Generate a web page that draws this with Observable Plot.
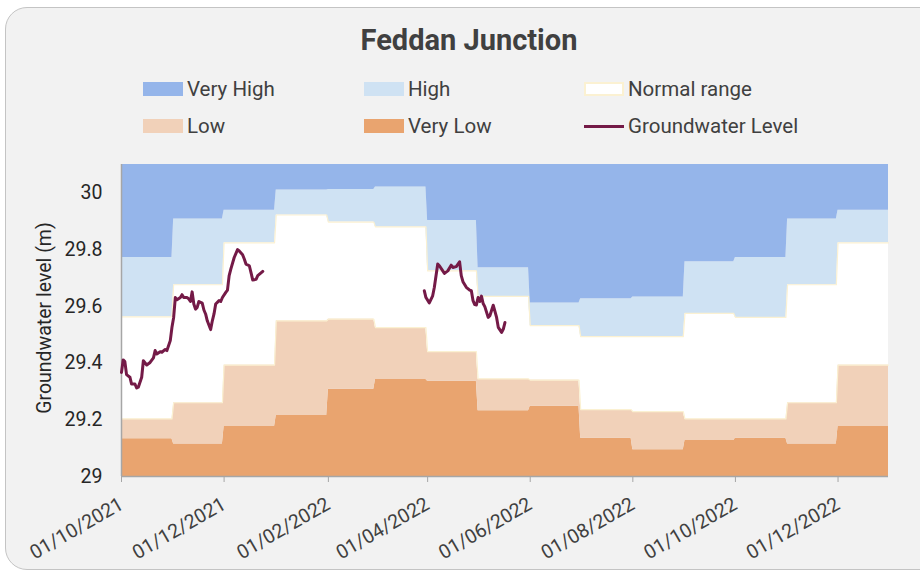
<!DOCTYPE html>
<html><head><meta charset="utf-8">
<script src="https://cdn.jsdelivr.net/npm/d3@7"></script>
<script src="https://cdn.jsdelivr.net/npm/@observablehq/plot@0.6"></script>
<style>
body{margin:0;width:920px;height:576px;overflow:hidden;background:#fff;font-family:Roboto,"Noto Sans",sans-serif;position:relative;}
#card{position:absolute;left:5px;top:7px;width:945px;height:563px;background:#f2f2f2;border:1px solid #c4c4c4;border-radius:22px;box-sizing:border-box;}
#title{position:absolute;left:0;width:938px;top:25px;text-align:center;font-size:29px;font-weight:bold;color:#404040;line-height:30px;}
.li{position:absolute;height:22px;display:flex;align-items:center;font-size:20.5px;color:#404040;white-space:nowrap;}
.sw{display:inline-block;width:40px;height:14px;margin-right:4px;box-sizing:border-box;}
#ylab{position:absolute;left:44px;top:318px;transform:translate(-50%,-50%) rotate(-90deg);font-size:19.5px;color:#262626;white-space:nowrap;}
#chart{position:absolute;left:0;top:150px;}
</style></head>
<body>
<div id="card"></div>
<div id="title">Feddan Junction</div>
<div id="legend"></div>
<div id="ylab">Groundwater level (m)</div>
<div id="chart"></div>
<script>
// Monthly threshold bands (top of each band), Oct 2021 – Dec 2022
const months = ["2021-10","2021-11","2021-12","2022-01","2022-02","2022-03","2022-04","2022-05","2022-06","2022-07","2022-08","2022-09","2022-10","2022-11","2022-12"];
const veryLowTop = [29.133,29.115,29.176,29.215,29.308,29.342,29.336,29.232,29.248,29.135,29.094,29.127,29.135,29.115,29.176];
const lowTop     = [29.203,29.260,29.393,29.549,29.555,29.525,29.440,29.344,29.340,29.236,29.229,29.203,29.203,29.260,29.393];
const normalTop  = [29.563,29.676,29.824,29.922,29.897,29.880,29.725,29.635,29.532,29.493,29.493,29.575,29.561,29.676,29.824];
const highTop    = [29.772,29.908,29.939,30.010,30.012,30.021,29.903,29.736,29.612,29.627,29.633,29.757,29.772,29.908,29.939];

// Groundwater level readings (two recorded periods)
const gwSeg1 = [
["2021-10-01",29.367],["2021-10-02",29.411],["2021-10-03",29.405],["2021-10-04",29.359],["2021-10-06",29.350],
["2021-10-07",29.326],["2021-10-09",29.326],["2021-10-10",29.312],["2021-10-11",29.315],["2021-10-13",29.350],
["2021-10-14",29.408],["2021-10-16",29.393],["2021-10-18",29.402],["2021-10-20",29.418],["2021-10-21",29.444],
["2021-10-22",29.432],["2021-10-24",29.440],["2021-10-25",29.438],["2021-10-27",29.448],["2021-10-28",29.444],
["2021-10-30",29.479],["2021-10-31",29.526],["2021-11-01",29.561],["2021-11-02",29.631],["2021-11-03",29.623],
["2021-11-05",29.631],["2021-11-06",29.641],["2021-11-07",29.631],["2021-11-09",29.631],["2021-11-10",29.626],
["2021-11-11",29.617],["2021-11-12",29.651],["2021-11-13",29.608],["2021-11-14",29.590],["2021-11-15",29.596],
["2021-11-16",29.617],["2021-11-18",29.611],["2021-11-19",29.587],["2021-11-20",29.573],["2021-11-21",29.549],
["2021-11-23",29.518],["2021-11-24",29.549],["2021-11-25",29.573],["2021-11-26",29.608],["2021-11-28",29.620],
["2021-11-29",29.617],["2021-11-30",29.631],["2021-12-02",29.649],["2021-12-03",29.657],["2021-12-04",29.708],
["2021-12-05",29.731],["2021-12-07",29.772],["2021-12-09",29.800],["2021-12-10",29.795],["2021-12-12",29.782],
["2021-12-13",29.767],["2021-12-14",29.749],["2021-12-16",29.743],["2021-12-17",29.719],["2021-12-18",29.693],
["2021-12-20",29.695],["2021-12-21",29.708],["2021-12-24",29.723]
];
const gwSeg2 = [
["2022-03-30",29.655],["2022-03-31",29.631],["2022-04-02",29.612],["2022-04-04",29.637],["2022-04-05",29.667],
["2022-04-07",29.749],["2022-04-08",29.743],["2022-04-10",29.725],["2022-04-11",29.716],["2022-04-13",29.725],
["2022-04-15",29.745],["2022-04-16",29.737],["2022-04-18",29.740],["2022-04-20",29.757],["2022-04-21",29.708],
["2022-04-22",29.687],["2022-04-24",29.667],["2022-04-26",29.657],["2022-04-27",29.655],["2022-04-28",29.620],
["2022-04-29",29.606],["2022-04-30",29.605],["2022-05-01",29.631],["2022-05-02",29.617],["2022-05-03",29.636],
["2022-05-04",29.610],["2022-05-05",29.599],["2022-05-07",29.561],["2022-05-08",29.567],["2022-05-09",29.585],
["2022-05-10",29.604],["2022-05-12",29.561],["2022-05-13",29.526],["2022-05-15",29.508],["2022-05-16",29.520],
["2022-05-17",29.543]
];

const xTicks = ["2021-10-01","2021-12-01","2022-02-01","2022-04-01","2022-06-01","2022-08-01","2022-10-01","2022-12-01"];
const yTicks = [29, 29.2, 29.4, 29.6, 29.8, 30];

const C = {vh:"#95b5ea", hi:"#cfe2f3", no:"#ffffff", lo:"#f1d1b9", vl:"#e9a46f", line:"#741a47", cream:"#fbf1d2"};

const legendItems = [
  {label:"Very High", color:C.vh, x:143, y:89},
  {label:"High", color:C.hi, x:364, y:89},
  {label:"Normal range", color:C.no, x:584, y:89, border:true},
  {label:"Low", color:C.lo, x:143, y:126},
  {label:"Very Low", color:C.vl, x:364, y:126},
  {label:"Groundwater Level", color:C.line, x:584, y:126, line:true}
];
const lg = document.getElementById("legend");
for (const it of legendItems) {
  const d = document.createElement("div");
  d.className = "li";
  d.style.left = it.x + "px";
  d.style.top = (it.y - 11) + "px";
  const s = document.createElement("span");
  s.className = "sw";
  if (it.line) { s.style.height = "3px"; s.style.background = it.color; }
  else { s.style.background = it.color; if (it.border) s.style.border = "2px solid " + C.cream; }
  d.appendChild(s);
  d.appendChild(document.createTextNode(it.label));
  lg.appendChild(d);
}

const parse = d3.utcParse("%Y-%m-%d");
const rows = [];
months.forEach((m, i) => {
  const [yy, mo] = m.split("-").map(Number);
  const start = new Date(Date.UTC(yy, mo - 1, 1));
  const end = new Date(Date.UTC(yy, mo, 0));
  for (const d of [start, end]) rows.push({date: d, vl: veryLowTop[i], lo: lowTop[i], no: normalTop[i], hi: highTop[i]});
});
const seg1 = gwSeg1.map(([d, v]) => ({date: parse(d), v}));
const seg2 = gwSeg2.map(([d, v]) => ({date: parse(d), v}));
const xStart = parse("2021-10-01"), xEnd = parse("2022-12-31");

const plot = Plot.plot({
  width: 920, height: 420,
  marginTop: 14, marginBottom: 94, marginLeft: 121, marginRight: 32,
  style: {background: "transparent", fontFamily: "Roboto, sans-serif", color: "#262626"},
  x: {type: "utc", domain: [xStart, xEnd]},
  y: {domain: [29, 30.1]},
  marks: [
    Plot.areaY(rows, {x: "date", y1: 29, y2: "vl", fill: C.vl}),
    Plot.areaY(rows, {x: "date", y1: "vl", y2: "lo", fill: C.lo}),
    Plot.areaY(rows, {x: "date", y1: "lo", y2: "no", fill: C.no}),
    Plot.areaY(rows, {x: "date", y1: "no", y2: "hi", fill: C.hi}),
    Plot.areaY(rows, {x: "date", y1: "hi", y2: 30.1, fill: C.vh}),
    Plot.lineY(rows, {x: "date", y: "lo", stroke: C.cream, strokeWidth: 1.2}),
    Plot.lineY(rows, {x: "date", y: "no", stroke: C.cream, strokeWidth: 1.2}),
    Plot.ruleX([xStart], {stroke: "#a6a6a6", strokeWidth: 1.5}),
    Plot.ruleY([29], {stroke: "#a6a6a6", strokeWidth: 1.5}),
    Plot.lineY(seg1, {x: "date", y: "v", stroke: C.line, strokeWidth: 3}),
    Plot.lineY(seg2, {x: "date", y: "v", stroke: C.line, strokeWidth: 3}),
    Plot.axisX({ticks: xTicks.map(parse), tickFormat: d3.utcFormat("%d/%m/%Y"), tickRotate: -30, tickSize: 6, stroke: "#a6a6a6", fill: "#404040", fontSize: 19.5, tickPadding: 20, label: null}),
    Plot.axisY({ticks: yTicks, tickFormat: d => String(d), tickSize: 0, tickPadding: 19, fontSize: 19.5, label: null})
  ]
});
document.getElementById("chart").appendChild(plot);
</script>
</body></html>
